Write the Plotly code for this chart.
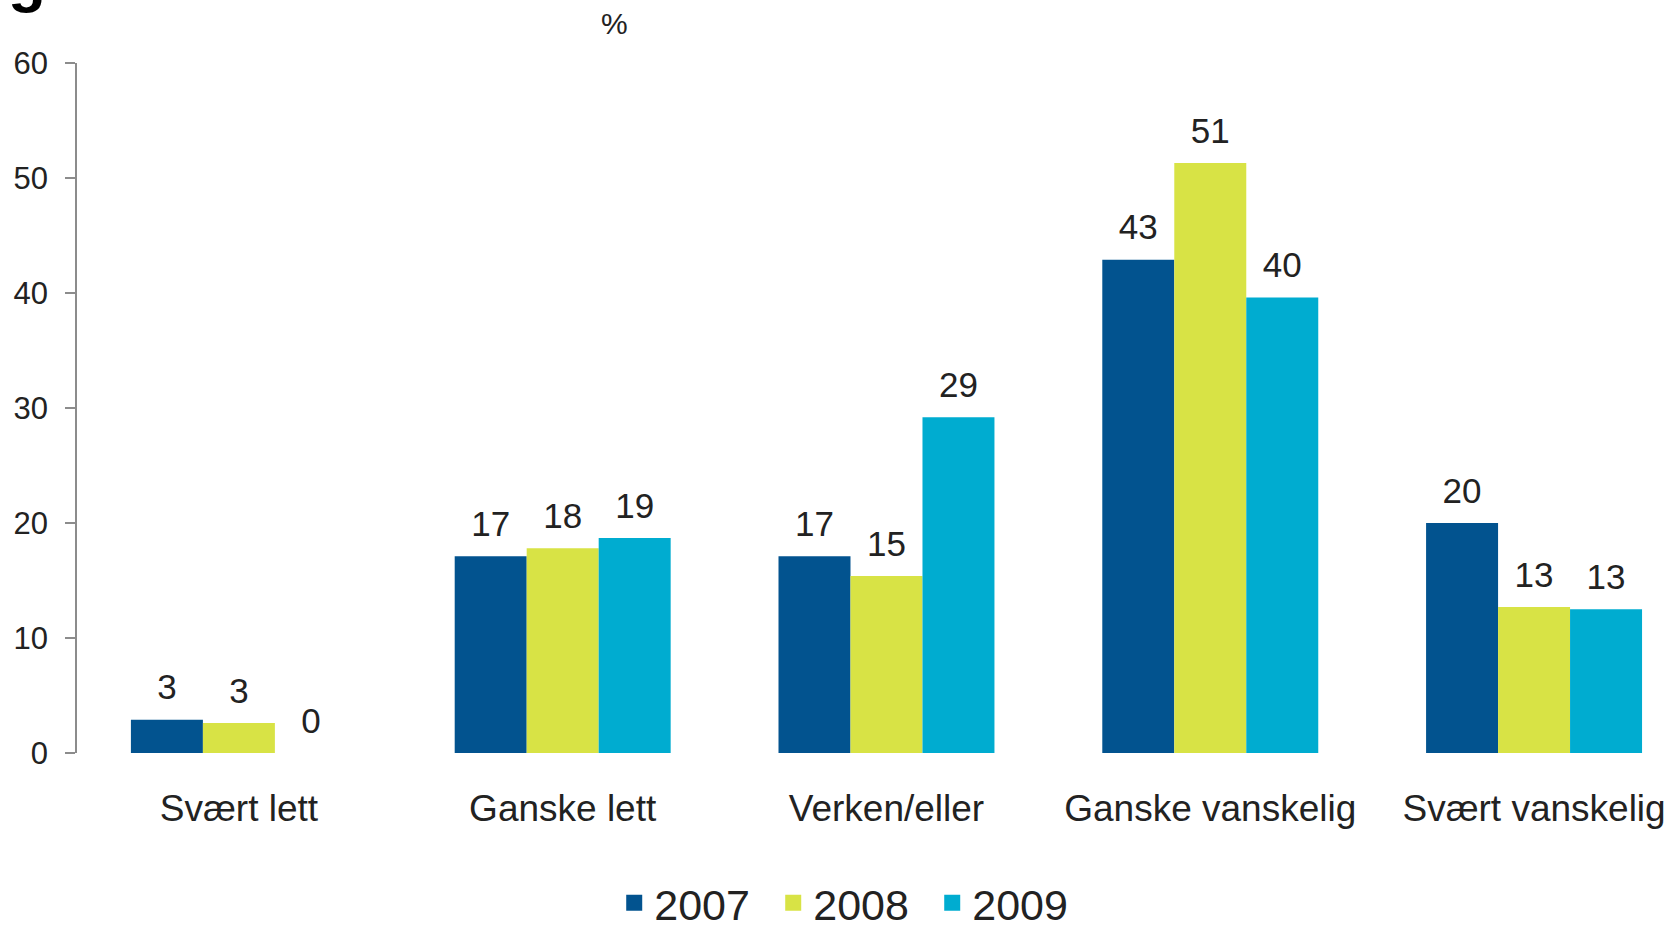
import plotly.graph_objects as go

categories = ["Svært lett", "Ganske lett", "Verken/eller", "Ganske vanskelig", "Svært vanskelig"]
years = ["2007", "2008", "2009"]
values_2007 = [2.9, 17.1, 17.1, 42.9, 20.0]
values_2008 = [2.6, 17.8, 15.4, 51.3, 12.7]
values_2009 = [0.0, 18.7, 29.2, 39.6, 12.5]
labels_2007 = ["3", "17", "17", "43", "20"]
labels_2008 = ["3", "18", "15", "51", "13"]
labels_2009 = ["0", "19", "29", "40", "13"]
y_ticks = [0, 10, 20, 30, 40, 50, 60]

colors = ["#02538F", "#D8E345", "#00ACD0"]
FONT = "Liberation Sans, Arial, sans-serif"
TXT = "#222222"

TOP = 62.5
PLOT_H = 752.7 - TOP

fig = go.Figure()
series = list(zip(years, [values_2007, values_2008, values_2009],
                  [labels_2007, labels_2008, labels_2009], colors))
for i, (name, vals, labs, col) in enumerate(series):
    fig.add_trace(go.Bar(
        x=categories, y=vals, name=name, offsetgroup=str(i),
        marker=dict(color=col, line=dict(width=0)),
        showlegend=False, hoverinfo="skip",
    ))
for i, (name, vals, labs, col) in enumerate(series):
    # value labels, grouped like the bars
    fig.add_trace(go.Scatter(
        x=categories, y=vals, text=labs, mode="markers+text", offsetgroup=str(i),
        textposition="top center", cliponaxis=False,
        textfont=dict(family=FONT, size=35, color=TXT),
        marker=dict(size=17, opacity=0, color=col),
        showlegend=False, hoverinfo="skip",
    ))
for i, (name, vals, labs, col) in enumerate(series):
    # legend entry with square symbol
    fig.add_trace(go.Scatter(
        x=[None], y=[None], mode="markers", name=name, offsetgroup=str(i),
        marker=dict(symbol="square", size=22, color=col),
        showlegend=True,
    ))

fig.update_layout(
    width=1672, height=925,
    margin=dict(l=77, r=0, t=TOP, b=925 - 752.7),
    paper_bgcolor="white", plot_bgcolor="white",
    barmode="group", bargap=0.333, bargroupgap=0,
    scattermode="group", scattergap=0.333,
    font=dict(family=FONT, color=TXT),
    showlegend=True,
    legend=dict(
        orientation="h", xref="container", yref="container",
        x=0.51, xanchor="center", y=0.024, yanchor="middle",
        font=dict(family=FONT, size=43, color=TXT),
        itemsizing="trace", traceorder="normal",
        entrywidth=114, entrywidthmode="pixels",
        bgcolor="rgba(0,0,0,0)",
    ),
    xaxis=dict(
        range=[-0.5, 4.426], showline=False, showgrid=False, zeroline=False,
        ticks="", tickfont=dict(family=FONT, size=37, color=TXT),
        ticklabelstandoff=30, fixedrange=True,
    ),
    yaxis=dict(
        range=[0, 60], tickvals=y_ticks, showgrid=False, zeroline=False,
        showline=True, linecolor="#8C8C8C", linewidth=1.5,
        ticks="outside", ticklen=10, tickcolor="#8C8C8C", tickwidth=1.5,
        tickfont=dict(family=FONT, size=31, color=TXT),
        ticklabelstandoff=11, fixedrange=True,
    ),
    annotations=[
        dict(text="%", xref="paper", yref="paper", x=(614 - 77) / 1595,
             y=1 + (TOP - 23) / PLOT_H, xanchor="center", yanchor="middle",
             showarrow=False, font=dict(family=FONT, size=30, color=TXT)),
        dict(text="<b>g</b>", xref="paper", yref="paper", x=(6 - 77) / 1595,
             y=1 + (TOP - 14) / PLOT_H, xanchor="left", yanchor="bottom",
             showarrow=False, font=dict(family=FONT, size=62, color="black")),
    ],
)

fig.write_html("out.html", config={"displayModeBar": False},
               post_script="document.body.style.margin='0px';")
